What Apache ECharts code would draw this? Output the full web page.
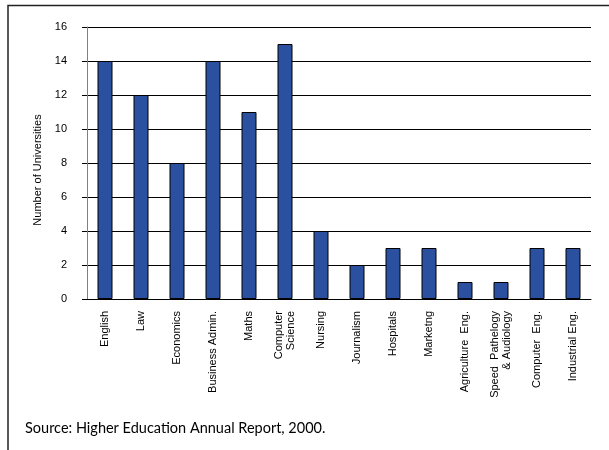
<!DOCTYPE html>
<html>
<head>
<meta charset="utf-8">
<script src="https://cdn.jsdelivr.net/npm/echarts@6/dist/echarts.min.js"></script>
<style>
  html, body { margin: 0; padding: 0; background: #fff; }
  #chart { width: 609px; height: 450px; }
</style>
</head>
<body>
<div id="chart"></div>
<script>
  // categories along the x axis
  const subjects = [
    'English', 'Law', 'Economics', 'Business Admin.', 'Maths',
    'Computer\nScience', 'Nursing', 'Journalism', 'Hospitals', 'Marketng',
    'Agriculture  Eng.', 'Speed  Pathelogy\n& Audiology', 'Computer  Eng.', 'Industrial Eng.'
  ];
  // number of universities per subject
  const universities = [14, 12, 8, 14, 11, 15, 4, 2, 3, 3, 1, 1, 3, 3];
  const yTicks = [0, 16, 2];  // min, max, step
  const source = 'Source: Higher Education Annual Report, 2000.';

  const myChart = echarts.init(document.getElementById('chart'));
  myChart.setOption({
    animation: false,
    textStyle: {fontFamily: 'Liberation Sans, Arial, sans-serif'},
    grid: {
      left: 87,
      right: 18,
      top: 27,
      bottom: 151,
      containLabel: false,
      outerBoundsMode: 'none'
    },
    xAxis: {
      type: 'category',
      data: subjects,
      axisTick: {show: false},
      axisLine: {lineStyle: {color: '#000', width: 1}},
      axisLabel: {
        interval: 0,
        rotate: 90,
        margin: 12,
        fontSize: 11,
        lineHeight: 12,
        color: '#000'
      }
    },
    yAxis: {
      type: 'value',
      min: yTicks[0],
      max: yTicks[1],
      interval: yTicks[2],
      name: 'Number of Universities',
      nameLocation: 'middle',
      nameGap: 24,
      nameTextStyle: {fontSize: 11, color: '#000', padding: [0, 14, 0, 0]},
      axisLine: {show: true, lineStyle: {color: '#808080', width: 1}},
      axisTick: {show: true, length: 5, lineStyle: {color: '#000'}},
      axisLabel: {fontSize: 11, color: '#000', margin: 20},
      splitLine: {lineStyle: {color: '#000', width: 1}}
    },
    series: [{
      type: 'bar',
      data: universities,
      barWidth: 15,
      itemStyle: {
        color: '#2b50a0',
        borderColor: '#000',
        borderWidth: 1
      }
    }],
    graphic: [
      {
        type: 'polyline',
        shape: {points: [[8, 452], [8, 5.5], [612, 5.5]]},
        style: {stroke: '#222', lineWidth: 1.5, fill: null}
      },
      {
        type: 'text',
        left: 25,
        top: 421,
        style: {
          text: source,
          fontSize: 14.5,
          fontFamily: 'Lato, sans-serif',
          fill: '#000'
        }
      }
    ]
  });
</script>
</body>
</html>
